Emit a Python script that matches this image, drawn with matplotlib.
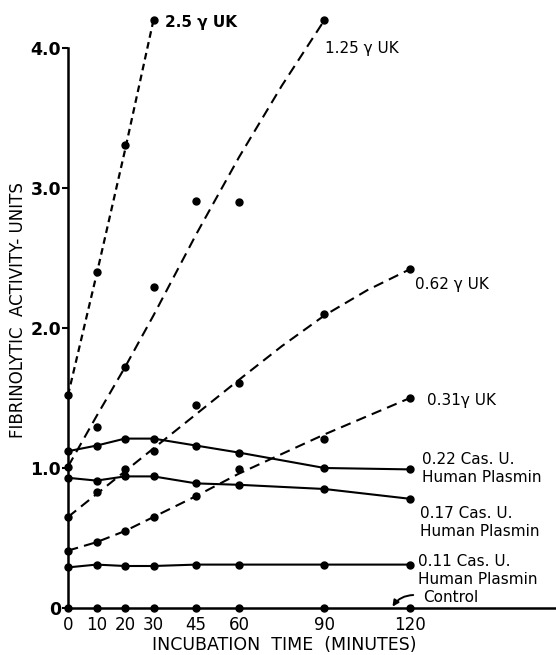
import matplotlib
matplotlib.use("Agg")
import matplotlib.pyplot as plt
import numpy as np

plt.rcParams["font.family"] = ["DejaVu Sans"]

MINUTES = [0, 10, 20, 30, 45, 60, 90, 120]
TICK_LABELS = ["0", "10", "20", "30", "45", "60", "90", "120"]

# urokinase series (measured points)
uk_250_x = [0, 10, 20, 30]
uk_250_y = [1.52, 2.40, 3.31, 4.20]
uk_125_x = [0, 10, 20, 30, 45, 60, 90]
uk_125_y = [1.01, 1.29, 1.72, 2.29, 2.91, 2.90, 4.20]
uk_062_y = [0.65, 0.83, 0.99, 1.12, 1.45, 1.61, 2.10, 2.42]
uk_031_y = [0.41, 0.47, 0.55, 0.65, 0.80, 0.99, 1.21, 1.50]

# fitted dashed lines as drawn in the figure
fit_250_y = [1.52, 2.38, 3.27, 4.20]
fit_125_x = [0, 10, 20, 30, 45, 60, 75, 90]
fit_125_y = [1.01, 1.37, 1.72, 2.09, 2.67, 3.22, 3.73, 4.20]
fit_062_x = [0, 30, 60, 75, 90, 105, 120]
fit_062_y = [0.65, 1.14, 1.63, 1.87, 2.09, 2.27, 2.42]
fit_031_x = [0, 10, 20, 30, 45, 60, 75, 90, 105, 120]
fit_031_y = [0.41, 0.47, 0.55, 0.65, 0.80, 0.96, 1.10, 1.24, 1.37, 1.50]

# human plasmin series
pl_022_y = [1.12, 1.16, 1.21, 1.21, 1.16, 1.11, 1.00, 0.99]
pl_017_y = [0.93, 0.91, 0.94, 0.94, 0.89, 0.88, 0.85, 0.78]
pl_011_y = [0.29, 0.31, 0.30, 0.30, 0.31, 0.31, 0.31, 0.31]
control_y = [0, 0, 0, 0, 0, 0, 0, 0]

fig = plt.figure(figsize=(5.56, 6.55), dpi=100)
ax = fig.add_axes([68 / 556, 47 / 655, 488 / 556, 4.3 * 140 / 655])
ax.set_xlim(0, 488 / 2.85)
ax.set_ylim(0, 4.3)

K = "black"
dot = dict(color=K, marker="o", ms=5, linestyle="none", clip_on=False, zorder=4)

# dashed fits
ax.plot(uk_250_x, fit_250_y, color=K, lw=1.6, dashes=(3, 2), clip_on=False)
ax.plot(fit_125_x, fit_125_y, color=K, lw=1.5, dashes=(5, 3), clip_on=False)
ax.plot(fit_062_x, fit_062_y, color=K, lw=1.5, dashes=(5, 3))
ax.plot(fit_031_x, fit_031_y, color=K, lw=1.5, dashes=(5, 3))

ax.plot(uk_250_x, uk_250_y, **dot)
ax.plot(uk_125_x, uk_125_y, **dot)
ax.plot(MINUTES, uk_062_y, **dot)
ax.plot(MINUTES, uk_031_y, **dot)

# solid plasmin curves
for ys in (pl_022_y, pl_017_y, pl_011_y):
    ax.plot(MINUTES, ys, color=K, lw=1.5)
    ax.plot(MINUTES, ys, **dot)
ax.plot(MINUTES, control_y, **dot)

# axes styling
for s in ("top", "right"):
    ax.spines[s].set_visible(False)
ax.spines["left"].set_bounds(0, 4.0)
ax.spines["left"].set_linewidth(1.8)
ax.spines["bottom"].set_linewidth(1.8)

ax.set_yticks([0, 1, 2, 3, 4])
ax.set_yticklabels(["0", "1.0", "2.0", "3.0", "4.0"], fontsize=12.5, fontweight="bold")
ax.set_xticks(MINUTES)
ax.set_xticklabels(TICK_LABELS, fontsize=12)
ax.tick_params(axis="y", length=4, width=1.5, pad=1)
ax.tick_params(axis="x", length=0, pad=6)

ax.set_ylabel("FIBRINOLYTIC  ACTIVITY- UNITS", fontsize=12)
ax.yaxis.set_label_coords(-0.085, (608 - 310) / 140 / 4.3)
ax.text(76, -0.2, "INCUBATION  TIME  (MINUTES)", fontsize=12.5,
        ha="center", va="top", clip_on=False)

# series labels
def px(x, y):
    return (x - 68) / 2.85, (608 - y) / 140

lab = dict(fontsize=11, va="center", ha="left", clip_on=False)
ax.text(*px(165, 23), "2.5 γ UK", fontweight="bold", **lab)
ax.text(*px(325, 48), "1.25 γ UK", **lab)
ax.text(*px(415, 285), "0.62 γ UK", **lab)
ax.text(*px(427, 400), "0.31γ UK", **lab)
ax.text(*px(422, 459), "0.22 Cas. U.", **lab)
ax.text(*px(422, 477), "Human Plasmin", **lab)
ax.text(*px(420, 513), "0.17 Cas. U.", **lab)
ax.text(*px(420, 531), "Human Plasmin", **lab)
ax.text(*px(418, 561), "0.11 Cas. U.", **lab)
ax.text(*px(418, 579), "Human Plasmin", **lab)
ax.text(*px(423, 598), "Control", **lab)
ax.annotate("", xy=px(391, 609), xytext=px(416, 595), annotation_clip=False,
            arrowprops=dict(arrowstyle="-|>", color=K, lw=1.4,
                            connectionstyle="arc3,rad=0.3", mutation_scale=9))

fig.savefig("out.png", dpi=100)
